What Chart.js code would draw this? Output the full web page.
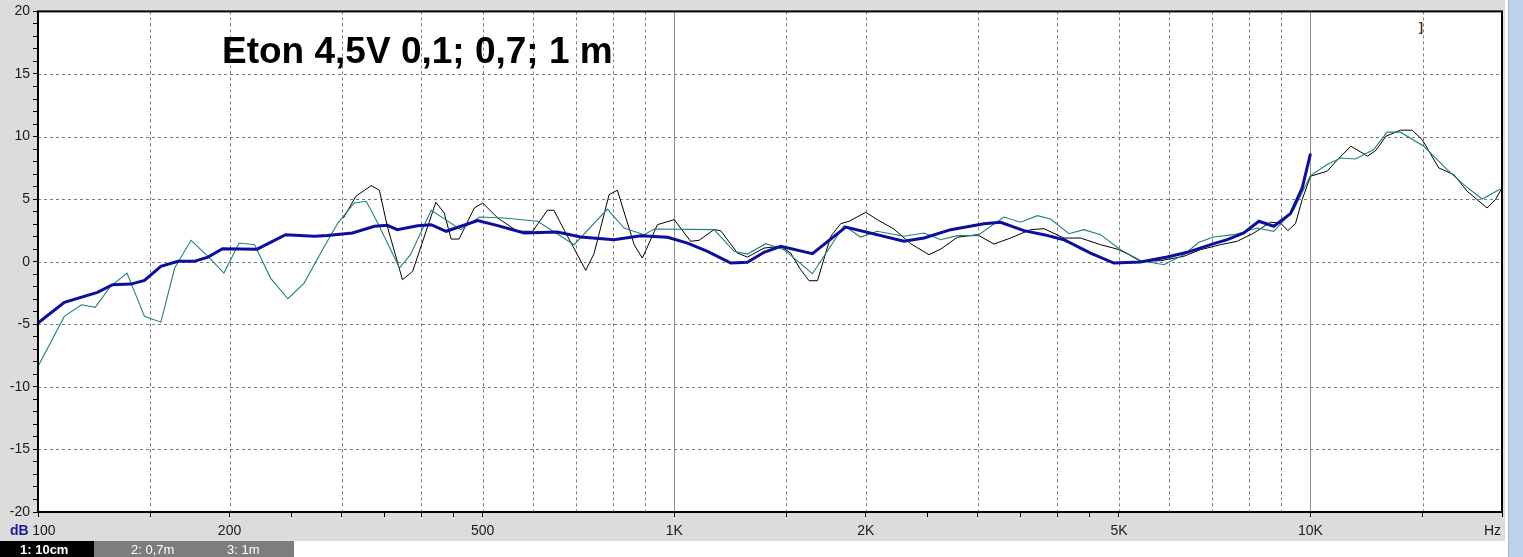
<!DOCTYPE html>
<html>
<head>
<meta charset="utf-8">
<script src="https://cdn.jsdelivr.net/npm/chart.js@4.4.0/dist/chart.umd.min.js"></script>
<style>
    html, body { margin: 0; padding: 0; background: #dcdcdc; overflow: hidden; }
    #graphique-eton { display: block; }
</style>
</head>
<body>
<canvas id="graphique-eton" width="1523" height="557"></canvas>
<script>
// Courbe 1 : micro a 10 cm (Hz / dB)
const freq10cm = [100,110,124,131,140,147,156,166,176,185,195,208,221,245,272,285,312,338,354,367,395,415,438,491,528,581,655,713,804,886,976,1049,1128,1227,1303,1384,1470,1649,1860,2296,2470,2720,3067,3258,3545,3811,4097,4511,4909,5407,5955,6402,7047,7400,7856,8296,8757,9303,9705,10000];
const db10cm = [-4.9,-3.25,-2.45,-1.84,-1.79,-1.49,-0.37,0.03,0.03,0.37,1.04,1.01,1.0,2.16,2.03,2.1,2.29,2.83,2.91,2.56,2.88,2.96,2.43,3.28,2.88,2.29,2.37,1.97,1.76,2.08,1.95,1.49,0.83,-0.11,-0.05,0.75,1.23,0.64,2.77,1.63,1.89,2.56,3.04,3.15,2.48,2.16,1.76,0.69,-0.11,-0.03,0.37,0.75,1.44,1.76,2.29,3.23,2.83,3.84,5.89,8.64];

// Courbe 2 : 0,7 m
const freq07m = [100,110,117,123,130,138,147,156,164,174,185,196,207,219,232,247,262,282,296,314,328,342,370,385,415,462,494,540,610,696,785,834,897,930,1155,1242,1303,1393,1488,1649,1849,1963,2085,2296,2470,2623,2786,2995,3297,3502,3721,3904,4172,4403,4678,5029,5407,5884,6324,6676,7047,7578,8248,8757,9414,10000,10622,11146,11769,12571,13198,13850,15066,16399,17414,18614,19885];
const db07m = [-8.37,-4.37,-3.44,-3.65,-1.97,-0.91,-4.37,-4.83,-0.51,1.71,0.43,-0.91,1.49,1.36,-1.31,-2.96,-1.71,1.23,3.09,4.69,4.83,3.09,-0.51,0.56,4.1,2.56,3.57,3.49,3.23,1.36,4.21,2.69,2.16,2.61,2.56,0.83,0.61,1.44,0.96,-0.96,2.88,1.97,2.43,2.03,2.29,1.76,2.08,2.08,3.57,3.15,3.68,3.41,2.24,2.56,2.16,0.96,0.1,-0.24,0.56,1.55,1.97,2.16,2.69,2.43,4.16,6.88,7.76,8.29,8.21,8.96,10.35,10.35,9.23,7.36,6.16,5.01,5.81];

// Courbe 3 : 1 m
const freq1m = [302,316,334,344,354,374,388,422,435,446,459,485,500,528,567,599,632,647,671,726,748,790,814,865,891,941,1000,1061,1094,1155,1183,1257,1303,1384,1470,1524,1580,1629,1679,1762,1827,1883,2000,2085,2215,2353,2514,2623,2786,2995,3180,3378,3632,3811,4097,4351,4678,4967,5150,5407,5813,6324,6718,7223,7670,8145,8652,8973,9211,9471,9705,10000,10622,11035,11576,12299,12677,13143,13850,14448,14979,15910,16800,17630,18950,19527,20000];
const db1m = [3.49,5.23,6.08,5.71,2.83,-1.44,-0.77,4.75,3.89,1.81,1.81,4.29,4.69,3.49,2.43,2.43,4.11,4.11,2.56,-0.69,0.64,5.36,5.71,1.36,0.29,2.96,3.36,1.63,1.71,2.56,2.48,0.69,0.37,1.09,1.23,0.69,-0.64,-1.52,-1.52,2.03,3.04,3.23,3.95,3.36,2.61,1.44,0.56,1.01,1.95,2.16,1.41,1.89,2.56,2.64,1.89,1.89,1.36,1.01,0.64,0.03,0.08,0.43,0.96,1.36,1.63,2.29,3.15,3.09,2.48,3.04,4.96,6.83,7.23,8.16,9.23,8.43,8.91,10.03,10.51,10.51,9.76,7.49,6.96,5.63,4.29,4.96,5.89];

// Graduations et textes
const ticksX = [100,150,200,250,300,350,400,450,500,1000,1500,2000,2500,3000,3500,4000,4500,5000,10000,15000,20000];
const valeursLabelsX = [100,200,500,1000,2000,5000,10000];
const textesLabelsX = ["   100","200","500","1K","2K","5K","10K"];
const grilleX = [150,200,300,400,500,600,700,800,900,1500,2000,3000,4000,5000,6000,7000,8000,9000,15000];
const grilleXPleine = [1000,10000];
const grilleY = [-15,-10,-5,0,5,10,15];
const titre = "Eton 4,5V 0,1; 0,7; 1 m";
const nomsCourbes = ["1: 10cm", "2: 0,7m", "3: 1m"];

function points(freqs, dbs) {
    return freqs.map((f, i) => ({ x: f, y: dbs[i] }));
}

const police = "Arial, 'Liberation Sans', sans-serif";

// fond gris, zone blanche et grille pointillee
const fondEtGrille = {
    id: "fondEtGrille",
    beforeDraw(chart) {
        const ctx = chart.ctx;
        const a = chart.chartArea;
        const x = chart.scales.x;
        const y = chart.scales.y;
        ctx.save();
        ctx.fillStyle = "#dcdcdc";
        ctx.fillRect(0, 0, chart.width, chart.height);
        ctx.fillStyle = "#ffffff";
        ctx.fillRect(a.left, a.top, a.right - a.left, a.bottom - a.top);

        ctx.strokeStyle = "#7a7a7a";
        ctx.lineWidth = 1;
        ctx.setLineDash([3, 3]);
        for (const f of grilleX) {
            const px = Math.round(x.getPixelForValue(f)) + 0.5;
            ctx.beginPath(); ctx.moveTo(px, a.top); ctx.lineTo(px, a.bottom); ctx.stroke();
        }
        for (const d of grilleY) {
            const py = Math.round(y.getPixelForValue(d)) + 0.5;
            ctx.beginPath(); ctx.moveTo(a.left, py); ctx.lineTo(a.right, py); ctx.stroke();
        }
        ctx.setLineDash([]);
        ctx.strokeStyle = "#8a8a8a";
        for (const f of grilleXPleine) {
            const px = Math.round(x.getPixelForValue(f)) + 0.5;
            ctx.beginPath(); ctx.moveTo(px, a.top); ctx.lineTo(px, a.bottom); ctx.stroke();
        }
        ctx.restore();
    },
    afterDraw(chart) {
        const ctx = chart.ctx;
        const a = chart.chartArea;
        ctx.save();
        // cadre noir
        ctx.strokeStyle = "#000";
        ctx.lineWidth = 2;
        ctx.strokeRect(a.left, a.top, a.right - a.left, a.bottom - a.top);

        // titre dans le graphique
        ctx.fillStyle = "#000";
        ctx.font = "bold 37px " + police;
        ctx.textBaseline = "alphabetic";
        ctx.fillText(titre, 222, 63);

        // petit repere en haut a droite
        ctx.fillStyle = "#4a2a00";
        ctx.font = "bold 12px " + police;
        ctx.fillText("]", 1419, 31);

        // unites
        ctx.fillStyle = "#1a1aa0";
        ctx.font = "bold 14px " + police;
        ctx.fillText("dB", 10, 535);
        ctx.fillStyle = "#1a1a1a";
        ctx.font = "14px " + police;
        ctx.textAlign = "right";
        ctx.fillText("Hz", 1501, 535);

        // barre des courbes en bas
        ctx.textAlign = "left";
        ctx.fillStyle = "#ffffff";
        ctx.fillRect(0, 541, 1505, 16);
        ctx.fillStyle = "#000000";
        ctx.fillRect(0, 541, 94, 16);
        ctx.fillStyle = "#7d7d7d";
        ctx.fillRect(94, 541, 200, 16);
        ctx.fillStyle = "#ffffff";
        ctx.font = "bold 13px " + police;
        ctx.fillText(nomsCourbes[0], 20, 554);
        ctx.font = "13px " + police;
        ctx.fillText(nomsCourbes[1], 131, 554);
        ctx.fillText(nomsCourbes[2], 227, 554);

        // barre de defilement a droite
        ctx.fillStyle = "#ffffff";
        ctx.fillRect(1505, 0, 3, 557);
        ctx.fillStyle = "#bcd2ea";
        ctx.fillRect(1508, 0, 15, 557);
        ctx.fillStyle = "#9db8d8";
        ctx.fillRect(1508, 0, 1, 557);
        ctx.restore();
    }
};

const data = {
    datasets: [{
        label: nomsCourbes[0],
        data: points(freq10cm, db10cm),
        borderColor: "#0d0d9e",
        borderWidth: 3,
        pointRadius: 0,
        tension: 0
    }, {
        label: nomsCourbes[1],
        data: points(freq07m, db07m),
        borderColor: "#217f82",
        borderWidth: 1.1,
        pointRadius: 0,
        tension: 0
    }, {
        label: nomsCourbes[2],
        data: points(freq1m, db1m),
        borderColor: "#000000",
        borderWidth: 1,
        pointRadius: 0,
        tension: 0
    }]
};

const config = {
    type: "line",
    data: data,
    options: {
        responsive: false,
        animation: false,
        layout: { padding: { left: 0, right: 21, top: 11, bottom: 15 } },
        plugins: {
            legend: { display: false },
            tooltip: { enabled: false }
        },
        scales: {
            x: {
                type: "logarithmic",
                min: 100,
                max: 20000,
                afterBuildTicks: (scale) => { scale.ticks = ticksX.map(v => ({ value: v })); },
                afterFit: (scale) => { scale.height = 30; },
                ticks: {
                    autoSkip: false,
                    maxRotation: 0,
                    padding: 6,
                    color: "#1a1a1a",
                    font: { family: police, size: 14 },
                    callback: function (value) {
                        const i = valeursLabelsX.indexOf(value);
                        return i >= 0 ? textesLabelsX[i] : "";
                    }
                },
                grid: { drawOnChartArea: false, tickLength: 5, tickColor: "#000", tickWidth: 1 },
                border: { display: false }
            },
            y: {
                min: -20,
                max: 20,
                afterFit: (scale) => { scale.width = 38; },
                ticks: {
                    stepSize: 1,
                    autoSkip: false,
                    padding: 3,
                    color: "#1a1a1a",
                    font: { family: police, size: 14 },
                    callback: (v) => (v % 5 === 0 ? String(v) : "")
                },
                grid: { drawOnChartArea: false, tickLength: 5, tickColor: "#000", tickWidth: 1 },
                border: { display: false }
            }
        }
    },
    plugins: [fondEtGrille]
};

// Rendu du graphique dans le canvas
const graphiqueEton = new Chart(document.querySelector("#graphique-eton"), config);
</script>
</body>
</html>
